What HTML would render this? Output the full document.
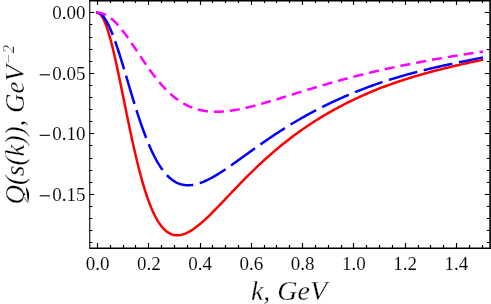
<!DOCTYPE html>
<html><head><meta charset="utf-8"><title>plot</title>
<style>
html,body{margin:0;padding:0;background:#fff;}
body{width:491px;height:304px;overflow:hidden;font-family:"Liberation Serif",serif;}
svg{display:block;will-change:transform;}
text{font-family:"Liberation Serif",serif;fill:#000;stroke:#fff;stroke-width:0.3px;}
.t text{stroke-width:0.1px;}
</style></head><body>
<svg width="491" height="304" viewBox="0 0 491 304">
<rect width="491" height="304" fill="#fff"/>

<g fill="none" stroke-width="2.5" stroke-linejoin="round">
<path d="M96.30,12.80 L97.50,12.80 L98.78,13.14 L100.06,14.06 L101.35,15.54 L102.63,17.53 L103.91,20.01 L105.19,22.96 L106.47,26.34 L107.76,30.14 L109.04,34.31 L110.32,38.84 L111.60,43.68 L112.88,48.82 L114.17,54.21 L115.45,59.82 L116.73,65.63 L118.01,71.60 L119.29,77.70 L120.58,83.90 L121.86,90.16 L123.14,96.48 L124.42,102.80 L125.70,109.12 L126.99,115.40 L128.27,121.62 L129.55,127.77 L130.83,133.82 L132.11,139.75 L133.40,145.56 L134.68,151.21 L135.96,156.72 L137.24,162.05 L138.52,167.21 L139.81,172.18 L141.09,176.96 L142.37,181.55 L143.65,185.93 L144.93,190.12 L146.22,194.09 L147.50,197.87 L148.78,201.43 L150.06,204.80 L151.34,207.96 L152.63,210.92 L153.91,213.69 L155.19,216.26 L156.47,218.64 L157.75,220.84 L159.04,222.86 L160.32,224.71 L161.60,226.38 L162.88,227.89 L164.16,229.25 L165.45,230.45 L166.73,231.50 L168.01,232.41 L169.29,233.18 L170.57,233.83 L171.86,234.35 L173.14,234.74 L174.42,235.03 L175.70,235.21 L176.98,235.28 L178.27,235.25 L179.55,235.13 L180.83,234.93 L182.11,234.64 L183.39,234.26 L184.68,233.82 L185.96,233.30 L187.24,232.72 L188.52,232.07 L189.80,231.36 L191.09,230.60 L192.37,229.79 L193.65,228.92 L194.93,228.01 L196.21,227.06 L197.50,226.07 L198.78,225.05 L200.06,223.98 L201.34,222.89 L202.62,221.77 L203.91,220.62 L205.19,219.45 L206.47,218.25 L207.75,217.03 L209.03,215.79 L210.32,214.54 L211.60,213.27 L212.88,211.99 L214.16,210.70 L215.44,209.39 L216.73,208.08 L218.01,206.75 L219.29,205.42 L220.57,204.09 L221.85,202.75 L223.14,201.40 L224.42,200.06 L225.70,198.71 L226.98,197.36 L228.26,196.01 L229.55,194.66 L230.83,193.31 L232.11,191.97 L233.39,190.63 L234.67,189.29 L235.96,187.95 L237.24,186.62 L238.52,185.29 L239.80,183.97 L241.08,182.65 L242.37,181.34 L243.65,180.03 L244.93,178.74 L246.21,177.44 L247.49,176.16 L248.78,174.88 L250.06,173.61 L251.34,172.35 L252.62,171.10 L253.90,169.85 L255.19,168.62 L256.47,167.39 L257.75,166.17 L259.03,164.96 L260.31,163.76 L261.60,162.57 L262.88,161.38 L264.16,160.21 L265.44,159.05 L266.72,157.89 L268.01,156.74 L269.29,155.61 L270.57,154.48 L271.85,153.36 L273.13,152.25 L274.42,151.15 L275.70,150.07 L276.98,148.99 L278.26,147.92 L279.54,146.85 L280.83,145.80 L282.11,144.76 L283.39,143.73 L284.67,142.70 L285.95,141.69 L287.24,140.68 L288.52,139.69 L289.80,138.70 L291.08,137.72 L292.36,136.76 L293.65,135.80 L294.93,134.85 L296.21,133.90 L297.49,132.97 L298.77,132.05 L300.06,131.13 L301.34,130.22 L302.62,129.33 L303.90,128.44 L305.18,127.55 L306.47,126.68 L307.75,125.82 L309.03,124.96 L310.31,124.11 L311.59,123.27 L312.88,122.44 L314.16,121.61 L315.44,120.80 L316.72,119.99 L318.00,119.19 L319.29,118.39 L320.57,117.61 L321.85,116.83 L323.13,116.06 L324.41,115.29 L325.70,114.54 L326.98,113.79 L328.26,113.05 L329.54,112.31 L330.82,111.58 L332.11,110.86 L333.39,110.15 L334.67,109.44 L335.95,108.74 L337.23,108.05 L338.52,107.36 L339.80,106.68 L341.08,106.00 L342.36,105.33 L343.64,104.67 L344.93,104.01 L346.21,103.36 L347.49,102.72 L348.77,102.08 L350.05,101.45 L351.34,100.82 L352.62,100.20 L353.90,99.59 L355.18,98.98 L356.46,98.38 L357.75,97.78 L359.03,97.19 L360.31,96.60 L361.59,96.02 L362.87,95.44 L364.16,94.87 L365.44,94.31 L366.72,93.75 L368.00,93.19 L369.28,92.64 L370.57,92.10 L371.85,91.56 L373.13,91.02 L374.41,90.50 L375.69,89.98 L376.98,89.46 L378.26,88.95 L379.54,88.44 L380.82,87.94 L382.10,87.45 L383.39,86.96 L384.67,86.48 L385.95,86.00 L387.23,85.52 L388.51,85.06 L389.80,84.59 L391.08,84.13 L392.36,83.68 L393.64,83.23 L394.92,82.78 L396.21,82.34 L397.49,81.91 L398.77,81.48 L400.05,81.05 L401.33,80.63 L402.62,80.21 L403.90,79.79 L405.18,79.38 L406.46,78.98 L407.74,78.57 L409.03,78.17 L410.31,77.78 L411.59,77.39 L412.87,77.00 L414.15,76.62 L415.44,76.23 L416.72,75.86 L418.00,75.48 L419.28,75.11 L420.56,74.75 L421.85,74.38 L423.13,74.02 L424.41,73.66 L425.69,73.31 L426.97,72.96 L428.26,72.61 L429.54,72.26 L430.82,71.92 L432.10,71.58 L433.38,71.24 L434.67,70.90 L435.95,70.57 L437.23,70.24 L438.51,69.91 L439.79,69.59 L441.08,69.26 L442.36,68.94 L443.64,68.62 L444.92,68.31 L446.20,67.99 L447.49,67.68 L448.77,67.37 L450.05,67.06 L451.33,66.75 L452.61,66.45 L453.90,66.14 L455.18,65.84 L456.46,65.54 L457.74,65.24 L459.02,64.95 L460.31,64.65 L461.59,64.36 L462.87,64.07 L464.15,63.77 L465.43,63.48 L466.72,63.20 L468.00,62.91 L469.28,62.62 L470.56,62.34 L471.84,62.05 L473.13,61.77 L474.41,61.49 L475.69,61.22 L476.97,60.94 L478.25,60.67 L479.54,60.40 L480.82,60.13 L482.10,59.86 L483.08,59.66" stroke="#ff0000"/>
<path d="M96.30,12.80 L97.50,12.80 L98.78,13.01 L100.06,13.60 L101.35,14.52 L102.63,15.75 L103.91,17.29 L105.19,19.11 L106.47,21.20 L107.76,23.56 L109.04,26.15 L110.32,28.97 L111.60,32.00 L112.88,35.23 L114.17,38.64 L115.45,42.21 L116.73,45.93 L118.01,49.77 L119.29,53.73 L120.58,57.79 L121.86,61.92 L123.14,66.12 L124.42,70.37 L125.70,74.65 L126.99,78.96 L128.27,83.26 L129.55,87.56 L130.83,91.84 L132.11,96.09 L133.40,100.29 L134.68,104.44 L135.96,108.53 L137.24,112.54 L138.52,116.47 L139.81,120.32 L141.09,124.07 L142.37,127.73 L143.65,131.27 L144.93,134.71 L146.22,138.04 L147.50,141.25 L148.78,144.34 L150.06,147.31 L151.34,150.16 L152.63,152.89 L153.91,155.49 L155.19,157.97 L156.47,160.33 L157.75,162.57 L159.04,164.69 L160.32,166.68 L161.60,168.56 L162.88,170.32 L164.16,171.97 L165.45,173.51 L166.73,174.94 L168.01,176.26 L169.29,177.48 L170.57,178.60 L171.86,179.62 L173.14,180.54 L174.42,181.37 L175.70,182.12 L176.98,182.77 L178.27,183.34 L179.55,183.84 L180.83,184.25 L182.11,184.59 L183.39,184.86 L184.68,185.06 L185.96,185.19 L187.24,185.26 L188.52,185.27 L189.80,185.22 L191.09,185.12 L192.37,184.96 L193.65,184.76 L194.93,184.50 L196.21,184.20 L197.50,183.86 L198.78,183.47 L200.06,183.05 L201.34,182.59 L202.62,182.10 L203.91,181.57 L205.19,181.01 L206.47,180.42 L207.75,179.80 L209.03,179.16 L210.32,178.49 L211.60,177.80 L212.88,177.09 L214.16,176.36 L215.44,175.61 L216.73,174.84 L218.01,174.06 L219.29,173.26 L220.57,172.44 L221.85,171.62 L223.14,170.78 L224.42,169.93 L225.70,169.07 L226.98,168.20 L228.26,167.33 L229.55,166.44 L230.83,165.55 L232.11,164.65 L233.39,163.75 L234.67,162.85 L235.96,161.93 L237.24,161.02 L238.52,160.10 L239.80,159.19 L241.08,158.26 L242.37,157.34 L243.65,156.42 L244.93,155.50 L246.21,154.57 L247.49,153.65 L248.78,152.73 L250.06,151.81 L251.34,150.89 L252.62,149.98 L253.90,149.06 L255.19,148.15 L256.47,147.24 L257.75,146.33 L259.03,145.43 L260.31,144.53 L261.60,143.63 L262.88,142.74 L264.16,141.85 L265.44,140.96 L266.72,140.08 L268.01,139.21 L269.29,138.34 L270.57,137.47 L271.85,136.61 L273.13,135.75 L274.42,134.90 L275.70,134.05 L276.98,133.21 L278.26,132.37 L279.54,131.54 L280.83,130.71 L282.11,129.89 L283.39,129.08 L284.67,128.27 L285.95,127.46 L287.24,126.66 L288.52,125.87 L289.80,125.08 L291.08,124.30 L292.36,123.52 L293.65,122.75 L294.93,121.99 L296.21,121.23 L297.49,120.47 L298.77,119.73 L300.06,118.98 L301.34,118.25 L302.62,117.52 L303.90,116.79 L305.18,116.07 L306.47,115.36 L307.75,114.65 L309.03,113.95 L310.31,113.25 L311.59,112.56 L312.88,111.87 L314.16,111.19 L315.44,110.52 L316.72,109.85 L318.00,109.19 L319.29,108.53 L320.57,107.87 L321.85,107.23 L323.13,106.58 L324.41,105.95 L325.70,105.31 L326.98,104.69 L328.26,104.07 L329.54,103.45 L330.82,102.84 L332.11,102.23 L333.39,101.63 L334.67,101.04 L335.95,100.44 L337.23,99.86 L338.52,99.28 L339.80,98.70 L341.08,98.13 L342.36,97.56 L343.64,97.00 L344.93,96.44 L346.21,95.89 L347.49,95.34 L348.77,94.80 L350.05,94.26 L351.34,93.72 L352.62,93.19 L353.90,92.66 L355.18,92.14 L356.46,91.63 L357.75,91.11 L359.03,90.60 L360.31,90.10 L361.59,89.60 L362.87,89.10 L364.16,88.61 L365.44,88.12 L366.72,87.64 L368.00,87.16 L369.28,86.68 L370.57,86.21 L371.85,85.74 L373.13,85.28 L374.41,84.82 L375.69,84.37 L376.98,83.92 L378.26,83.48 L379.54,83.04 L380.82,82.60 L382.10,82.17 L383.39,81.75 L384.67,81.33 L385.95,80.91 L387.23,80.50 L388.51,80.09 L389.80,79.68 L391.08,79.28 L392.36,78.89 L393.64,78.49 L394.92,78.10 L396.21,77.72 L397.49,77.34 L398.77,76.96 L400.05,76.58 L401.33,76.21 L402.62,75.85 L403.90,75.48 L405.18,75.12 L406.46,74.76 L407.74,74.41 L409.03,74.06 L410.31,73.71 L411.59,73.37 L412.87,73.02 L414.15,72.68 L415.44,72.35 L416.72,72.02 L418.00,71.68 L419.28,71.36 L420.56,71.03 L421.85,70.71 L423.13,70.39 L424.41,70.07 L425.69,69.76 L426.97,69.45 L428.26,69.14 L429.54,68.83 L430.82,68.52 L432.10,68.22 L433.38,67.92 L434.67,67.62 L435.95,67.32 L437.23,67.03 L438.51,66.73 L439.79,66.44 L441.08,66.15 L442.36,65.87 L443.64,65.58 L444.92,65.30 L446.20,65.01 L447.49,64.73 L448.77,64.45 L450.05,64.18 L451.33,63.90 L452.61,63.62 L453.90,63.35 L455.18,63.08 L456.46,62.81 L457.74,62.54 L459.02,62.27 L460.31,62.00 L461.59,61.74 L462.87,61.47 L464.15,61.21 L465.43,60.94 L466.72,60.68 L468.00,60.42 L469.28,60.16 L470.56,59.90 L471.84,59.64 L473.13,59.38 L474.41,59.13 L475.69,58.87 L476.97,58.62 L478.25,58.37 L479.54,58.13 L480.82,57.88 L482.10,57.63 L483.08,57.45" stroke="#0000ff" stroke-dasharray="29.4 6.7" stroke-dashoffset="0.3"/>
<path d="M96.30,12.80 L97.50,12.80 L98.78,12.85 L100.06,13.00 L101.35,13.25 L102.63,13.60 L103.91,14.06 L105.19,14.61 L106.47,15.26 L107.76,16.01 L109.04,16.85 L110.32,17.79 L111.60,18.81 L112.88,19.92 L114.17,21.10 L115.45,22.37 L116.73,23.71 L118.01,25.12 L119.29,26.59 L120.58,28.13 L121.86,29.72 L123.14,31.36 L124.42,33.05 L125.70,34.79 L126.99,36.56 L128.27,38.37 L129.55,40.21 L130.83,42.07 L132.11,43.95 L133.40,45.85 L134.68,47.76 L135.96,49.68 L137.24,51.60 L138.52,53.53 L139.81,55.45 L141.09,57.36 L142.37,59.27 L143.65,61.16 L144.93,63.03 L146.22,64.89 L147.50,66.72 L148.78,68.53 L150.06,70.31 L151.34,72.06 L152.63,73.79 L153.91,75.48 L155.19,77.13 L156.47,78.76 L157.75,80.34 L159.04,81.89 L160.32,83.39 L161.60,84.86 L162.88,86.29 L164.16,87.68 L165.45,89.02 L166.73,90.32 L168.01,91.58 L169.29,92.80 L170.57,93.97 L171.86,95.10 L173.14,96.19 L174.42,97.24 L175.70,98.24 L176.98,99.21 L178.27,100.13 L179.55,101.01 L180.83,101.85 L182.11,102.65 L183.39,103.41 L184.68,104.13 L185.96,104.82 L187.24,105.47 L188.52,106.08 L189.80,106.65 L191.09,107.19 L192.37,107.70 L193.65,108.17 L194.93,108.61 L196.21,109.01 L197.50,109.39 L198.78,109.73 L200.06,110.05 L201.34,110.33 L202.62,110.59 L203.91,110.82 L205.19,111.03 L206.47,111.20 L207.75,111.36 L209.03,111.49 L210.32,111.59 L211.60,111.68 L212.88,111.74 L214.16,111.78 L215.44,111.80 L216.73,111.80 L218.01,111.78 L219.29,111.75 L220.57,111.69 L221.85,111.62 L223.14,111.53 L224.42,111.43 L225.70,111.31 L226.98,111.17 L228.26,111.02 L229.55,110.86 L230.83,110.69 L232.11,110.50 L233.39,110.30 L234.67,110.09 L235.96,109.87 L237.24,109.64 L238.52,109.40 L239.80,109.14 L241.08,108.88 L242.37,108.61 L243.65,108.33 L244.93,108.05 L246.21,107.76 L247.49,107.45 L248.78,107.15 L250.06,106.83 L251.34,106.51 L252.62,106.19 L253.90,105.85 L255.19,105.52 L256.47,105.17 L257.75,104.83 L259.03,104.48 L260.31,104.12 L261.60,103.76 L262.88,103.40 L264.16,103.03 L265.44,102.66 L266.72,102.29 L268.01,101.92 L269.29,101.54 L270.57,101.16 L271.85,100.78 L273.13,100.39 L274.42,100.00 L275.70,99.62 L276.98,99.23 L278.26,98.84 L279.54,98.44 L280.83,98.05 L282.11,97.66 L283.39,97.26 L284.67,96.87 L285.95,96.47 L287.24,96.08 L288.52,95.68 L289.80,95.28 L291.08,94.89 L292.36,94.49 L293.65,94.09 L294.93,93.70 L296.21,93.30 L297.49,92.90 L298.77,92.51 L300.06,92.11 L301.34,91.72 L302.62,91.32 L303.90,90.93 L305.18,90.54 L306.47,90.15 L307.75,89.76 L309.03,89.37 L310.31,88.98 L311.59,88.59 L312.88,88.21 L314.16,87.82 L315.44,87.44 L316.72,87.05 L318.00,86.67 L319.29,86.29 L320.57,85.91 L321.85,85.54 L323.13,85.16 L324.41,84.79 L325.70,84.41 L326.98,84.04 L328.26,83.67 L329.54,83.30 L330.82,82.94 L332.11,82.57 L333.39,82.21 L334.67,81.85 L335.95,81.49 L337.23,81.13 L338.52,80.78 L339.80,80.43 L341.08,80.07 L342.36,79.72 L343.64,79.38 L344.93,79.03 L346.21,78.69 L347.49,78.35 L348.77,78.01 L350.05,77.67 L351.34,77.34 L352.62,77.00 L353.90,76.67 L355.18,76.34 L356.46,76.02 L357.75,75.69 L359.03,75.37 L360.31,75.05 L361.59,74.73 L362.87,74.41 L364.16,74.09 L365.44,73.78 L366.72,73.47 L368.00,73.16 L369.28,72.85 L370.57,72.55 L371.85,72.24 L373.13,71.94 L374.41,71.64 L375.69,71.34 L376.98,71.04 L378.26,70.75 L379.54,70.45 L380.82,70.16 L382.10,69.87 L383.39,69.59 L384.67,69.30 L385.95,69.02 L387.23,68.73 L388.51,68.45 L389.80,68.17 L391.08,67.90 L392.36,67.62 L393.64,67.35 L394.92,67.07 L396.21,66.80 L397.49,66.53 L398.77,66.26 L400.05,66.00 L401.33,65.73 L402.62,65.47 L403.90,65.21 L405.18,64.95 L406.46,64.69 L407.74,64.43 L409.03,64.18 L410.31,63.92 L411.59,63.67 L412.87,63.42 L414.15,63.17 L415.44,62.92 L416.72,62.67 L418.00,62.43 L419.28,62.18 L420.56,61.94 L421.85,61.70 L423.13,61.46 L424.41,61.22 L425.69,60.98 L426.97,60.74 L428.26,60.51 L429.54,60.27 L430.82,60.04 L432.10,59.81 L433.38,59.58 L434.67,59.35 L435.95,59.12 L437.23,58.89 L438.51,58.66 L439.79,58.44 L441.08,58.21 L442.36,57.99 L443.64,57.77 L444.92,57.55 L446.20,57.33 L447.49,57.11 L448.77,56.89 L450.05,56.68 L451.33,56.46 L452.61,56.25 L453.90,56.04 L455.18,55.83 L456.46,55.62 L457.74,55.41 L459.02,55.21 L460.31,55.00 L461.59,54.80 L462.87,54.60 L464.15,54.40 L465.43,54.20 L466.72,54.00 L468.00,53.80 L469.28,53.60 L470.56,53.41 L471.84,53.21 L473.13,53.02 L474.41,52.83 L475.69,52.64 L476.97,52.45 L478.25,52.26 L479.54,52.07 L480.82,51.89 L482.10,51.70 L483.09,51.56" stroke="#ff00ff" stroke-dasharray="10.1 5.95"/>
</g>
<path d="M97.50,248.2v-5.1M97.50,0.7V4.95M110.50,248.2v-3.1M110.50,0.7V2.95M123.50,248.2v-3.1M123.50,0.7V2.95M135.50,248.2v-3.1M135.50,0.7V2.95M148.50,248.2v-5.1M148.50,0.7V4.95M161.50,248.2v-3.1M161.50,0.7V2.95M174.50,248.2v-3.1M174.50,0.7V2.95M187.50,248.2v-3.1M187.50,0.7V2.95M200.50,248.2v-5.1M200.50,0.7V4.95M212.50,248.2v-3.1M212.50,0.7V2.95M225.50,248.2v-3.1M225.50,0.7V2.95M238.50,248.2v-3.1M238.50,0.7V2.95M251.50,248.2v-5.1M251.50,0.7V4.95M264.50,248.2v-3.1M264.50,0.7V2.95M276.50,248.2v-3.1M276.50,0.7V2.95M289.50,248.2v-3.1M289.50,0.7V2.95M302.50,248.2v-5.1M302.50,0.7V4.95M315.50,248.2v-3.1M315.50,0.7V2.95M328.50,248.2v-3.1M328.50,0.7V2.95M341.50,248.2v-3.1M341.50,0.7V2.95M353.50,248.2v-5.1M353.50,0.7V4.95M366.50,248.2v-3.1M366.50,0.7V2.95M379.50,248.2v-3.1M379.50,0.7V2.95M392.50,248.2v-3.1M392.50,0.7V2.95M405.50,248.2v-5.1M405.50,0.7V4.95M418.50,248.2v-3.1M418.50,0.7V2.95M430.50,248.2v-3.1M430.50,0.7V2.95M443.50,248.2v-3.1M443.50,0.7V2.95M456.50,248.2v-5.1M456.50,0.7V4.95M469.50,248.2v-3.1M469.50,0.7V2.95M482.50,248.2v-3.1M482.50,0.7V2.95M89.85,12.50h4.5M490.1,12.50h-5.3M89.85,24.50h2.5M490.1,24.50h-3.3M89.85,37.50h2.5M490.1,37.50h-3.3M89.85,49.50h2.5M490.1,49.50h-3.3M89.85,61.50h2.5M490.1,61.50h-3.3M89.85,73.50h4.5M490.1,73.50h-5.3M89.85,85.50h2.5M490.1,85.50h-3.3M89.85,97.50h2.5M490.1,97.50h-3.3M89.85,109.50h2.5M490.1,109.50h-3.3M89.85,121.50h2.5M490.1,121.50h-3.3M89.85,133.50h4.5M490.1,133.50h-5.3M89.85,145.50h2.5M490.1,145.50h-3.3M89.85,158.50h2.5M490.1,158.50h-3.3M89.85,170.50h2.5M490.1,170.50h-3.3M89.85,182.50h2.5M490.1,182.50h-3.3M89.85,194.50h4.5M490.1,194.50h-5.3M89.85,206.50h2.5M490.1,206.50h-3.3M89.85,218.50h2.5M490.1,218.50h-3.3M89.85,230.50h2.5M490.1,230.50h-3.3M89.85,242.50h2.5M490.1,242.50h-3.3" stroke="#000" stroke-width="1.15" fill="none"/>
<path d="M89.77,0V248.2" stroke="#000" stroke-width="1.1" fill="none"/>
<path d="M490.1,0V248.2" stroke="#000" stroke-width="1.6" fill="none"/>
<path d="M89.25,0.7H491" stroke="#000" stroke-width="1.5" fill="none"/>
<path d="M89.25,248.2H491" stroke="#000" stroke-width="1.4" fill="none"/>
<g font-size="19" class="t">
<text x="97.50" y="270" text-anchor="middle">0.0</text>
<text x="148.78" y="270" text-anchor="middle">0.2</text>
<text x="200.06" y="270" text-anchor="middle">0.4</text>
<text x="251.34" y="270" text-anchor="middle">0.6</text>
<text x="302.62" y="270" text-anchor="middle">0.8</text>
<text x="353.90" y="270" text-anchor="middle">1.0</text>
<text x="405.18" y="270" text-anchor="middle">1.2</text>
<text x="456.46" y="270" text-anchor="middle">1.4</text>
<text x="85.5" y="19.20" text-anchor="end">0.00</text>
<text x="85.5" y="79.70" text-anchor="end">0.05</text>
<path d="M39.7,74.80h10.2" stroke="#000" stroke-width="1.1"/>
<text x="85.5" y="140.20" text-anchor="end">0.10</text>
<path d="M39.7,135.30h10.2" stroke="#000" stroke-width="1.1"/>
<text x="85.5" y="200.70" text-anchor="end">0.15</text>
<path d="M39.7,195.80h10.2" stroke="#000" stroke-width="1.1"/>
</g>
<text x="289.0" y="300" font-size="28" font-style="italic" text-anchor="middle">k, GeV</text>
<text transform="translate(23.6,204.5) rotate(-90)" font-size="27" font-style="italic">Q(s(k)), GeV</text>
<text transform="translate(13.7,64.5) rotate(-90)" font-size="16.5" font-style="italic">−2</text>
<path d="M24.51,194.02 L24.88,191.07 L25.80,187.75 L28.20,187.75 L28.20,194.76 Z" fill="#fff"/>
<path d="M25.52,186.92 C28.29,189.23 29.49,192.92 29.03,196.61 C28.85,199.37 28.38,201.22 27.92,202.69 C27.37,198.45 27.18,192.92 25.52,186.92 Z" fill="#000"/>
<path d="M23.49,196.88 L27.92,202.69" stroke="#000" stroke-width="0.6" fill="none"/>
</svg></body></html>
